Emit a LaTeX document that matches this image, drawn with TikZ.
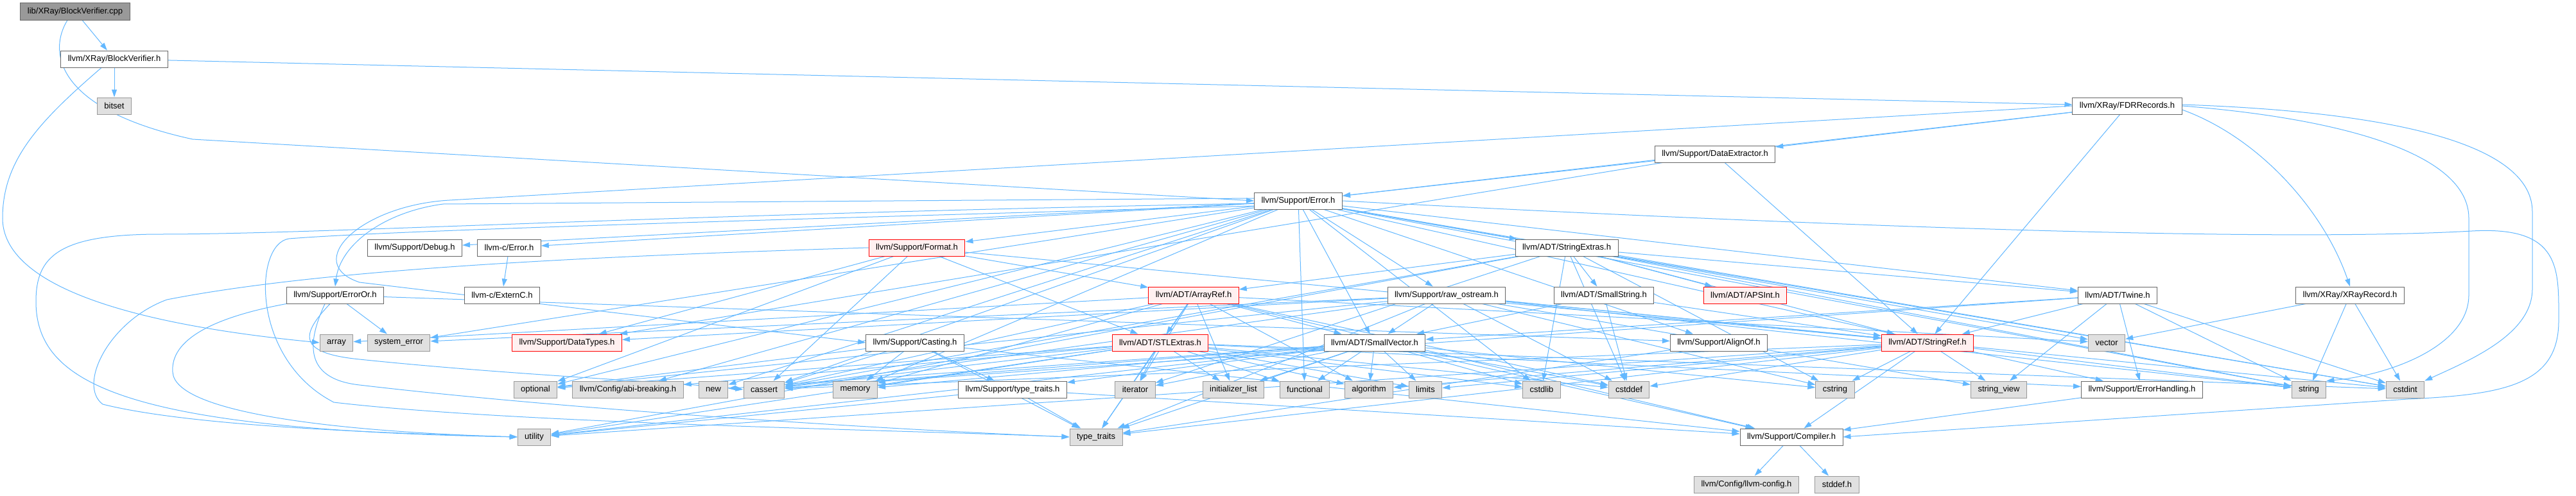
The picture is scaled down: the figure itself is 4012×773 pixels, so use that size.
\documentclass[tikz,border=0pt]{standalone}
\usepackage{fontspec}
\setmainfont{Liberation Sans}
\usetikzlibrary{arrows.meta}
\pgfdeclarelayer{bg}
\pgfsetlayers{bg,main}
\definecolor{edgeblue}{HTML}{63B8FF}
\definecolor{bwhite}{HTML}{666666}
\definecolor{bgray}{HTML}{999999}
\definecolor{fgray}{HTML}{E0E0E0}
\definecolor{fred}{HTML}{FFF0F0}
\tikzset{
  box/.style={rectangle, draw, line width=0.5bp, minimum height=13bp, inner xsep=5.5bp, inner ysep=0pt,
    font=\fontsize{6.5bp}{7.8bp}\selectfont, text=black},
  nw/.style={box, draw=bwhite, fill=white},
  ng/.style={box, draw=bgray, fill=fgray},
  nr/.style={box, draw=red, fill=fred},
  nm/.style={box, draw=bwhite, fill=bgray},
  ed/.style={draw=edgeblue, line width=0.5bp, -{Triangle[length=6bp,width=4bp]}}
}
\begin{document}
\begin{tikzpicture}[x=0.5bp,y=-0.5bp]
\useasboundingbox (0,0) rectangle (4012,773);
% row 1-5
\node[nm] (cpp) at (117,18) {lib/XRay/BlockVerifier.cpp};
\node[nw] (bvh) at (178,92) {llvm/XRay/BlockVerifier.h};
\node[ng] (bitset) at (178,165) {bitset};
\node[nw] (fdr) at (3313,165) {llvm/XRay/FDRRecords.h};
\node[nw] (dext) at (2671,240) {llvm/Support/DataExtractor.h};
\node[nw] (err) at (2022,313) {llvm/Support/Error.h};
% row 6
\node[nw] (debug) at (646,386) {llvm/Support/Debug.h};
\node[nw] (cerr) at (793,386) {llvm-c/Error.h};
\node[nr] (format) at (1428,386) {llvm/Support/Format.h};
\node[nw] (sext) at (2440,386) {llvm/ADT/StringExtras.h};
% row 7
\node[nw] (erroror) at (522,460) {llvm/Support/ErrorOr.h};
\node[nw] (externc) at (782,460) {llvm-c/ExternC.h};
\node[nr] (aref) at (1859,460) {llvm/ADT/ArrayRef.h};
\node[nw] (rawos) at (2253,460) {llvm/Support/raw\_ostream.h};
\node[nw] (sstring) at (2498,460) {llvm/ADT/SmallString.h};
\node[nr] (apsint) at (2718,460) {llvm/ADT/APSInt.h};
\node[nw] (twine) at (3298,460) {llvm/ADT/Twine.h};
\node[nw] (xrec) at (3660,460) {llvm/XRay/XRayRecord.h};
% row 8
\node[ng] (array) at (524,534) {array};
\node[ng] (syserr) at (621,534) {system\_error};
\node[nr] (dtypes) at (883,534) {llvm/Support/DataTypes.h};
\node[nw] (cast) at (1425,534) {llvm/Support/Casting.h};
\node[nr] (stlx) at (1807,534) {llvm/ADT/STLExtras.h};
\node[nw] (svec) at (2141,534) {llvm/ADT/SmallVector.h};
\node[nw] (align) at (2677,534) {llvm/Support/AlignOf.h};
\node[nr] (sref) at (3002,534) {llvm/ADT/StringRef.h};
\node[ng] (vector) at (3281,534) {vector};
% row 9
\node[ng] (optional) at (834,607) {optional};
\node[ng] (abi) at (978,607) {llvm/Config/abi-breaking.h};
\node[ng] (newh) at (1111,607) {new};
\node[ng] (cassert) at (1190,607) {cassert};
\node[ng] (memory) at (1332,607) {memory};
\node[nw] (sttraits) at (1577,607) {llvm/Support/type\_traits.h};
\node[ng] (iterator) at (1768,607) {iterator};
\node[ng] (initlist) at (1921,607) {initializer\_list};
\node[ng] (functional) at (2032,607) {functional};
\node[ng] (algorithm) at (2132,607) {algorithm};
\node[ng] (limits) at (2220,607) {limits};
\node[ng] (cstdlib) at (2401,607) {cstdlib};
\node[ng] (cstddef) at (2537,607) {cstddef};
\node[ng] (cstring) at (2858,607) {cstring};
\node[ng] (strview) at (3113,607) {string\_view};
\node[nw] (ehand) at (3336,607) {llvm/Support/ErrorHandling.h};
\node[ng] (string) at (3596,607) {string};
\node[ng] (cstdint) at (3746,607) {cstdint};
% row 10-11
\node[ng] (utility) at (832,681) {utility};
\node[ng] (ttraits) at (1707,681) {type\_traits};
\node[nw] (compiler) at (2790,681) {llvm/Support/Compiler.h};
\node[ng] (llvmcfg) at (2720,755) {llvm/Config/llvm-config.h};
\node[ng] (stddef) at (2861,755) {stddef.h};

\begin{pgfonlayer}{bg}
\fill[white] (0,0) rectangle (4012,773);
% curved connectors
\draw[ed] ([xshift=-6bp]cpp.south) .. controls (75,80) and (85,170) .. (300,217) -- (err.west);
\draw[ed] ([xshift=-10bp]bvh.south) .. controls (60,190) and (4,250) .. (4,340) .. controls (4,430) and (150,500) .. (array.west);
\draw[ed] (err.east) .. controls (2700,345) and (3500,380) .. (3850,360) .. controls (3990,352) and (3985,420) .. (3985,500) .. controls (3985,600) and (3900,615) .. (3750,622) -- (compiler.east);
\draw[ed] ([yshift=1bp]fdr.east) .. controls (3750,175) and (3944,230) .. (3944,330) -- (3944,450) .. controls (3944,520) and (3850,560) .. (cstdint.north east);
\draw[ed] (fdr.east) .. controls (3650,185) and (3845,240) .. (3845,340) -- (3845,460) .. controls (3845,540) and (3720,585) .. (string.north east);
\draw[ed] ([yshift=-3bp]fdr.east) .. controls (3520,215) and (3620,330) .. (xrec.north);
\draw[ed] ([yshift=-2bp]err.west) .. controls (1000,335) and (500,365) .. (250,365) .. controls (90,365) and (56,400) .. (56,470) .. controls (56,600) and (200,670) .. (utility.west);
\draw[ed] ([yshift=-4bp]err.west) .. controls (1100,345) and (600,360) .. (450,372) .. controls (395,380) and (390,560) .. (520,627) .. controls (800,660) and (1400,670) .. (ttraits.west);
\draw[ed] (format.west) .. controls (900,400) and (500,420) .. (260,467) .. controls (170,500) and (120,600) .. (160,630) .. controls (300,665) and (600,675) .. (utility.west);
\draw[ed] (fdr.west) -- (700,312) .. controls (560,320) and (470,410) .. (560,440) -- (cast.west);
\draw[ed] ([yshift=2bp]err.west) -- (690,318) .. controls (600,330) and (530,380) .. (erroror.north);
\draw[ed] (erroror.south west) .. controls (330,495) and (265,530) .. (269,580) .. controls (272,640) and (500,672) .. (utility.west);
\draw[ed] ([xshift=-4bp]erroror.south) .. controls (470,520) and (460,550) .. (560,560) .. controls (800,585) and (1050,595) .. (cassert.west);
\draw[ed] ([xshift=-8bp]erroror.south) .. controls (480,530) and (470,590) .. (560,600) .. controls (900,640) and (1400,670) .. (ttraits.west);
% straight connectors
\foreach \a/\b in {cpp/bvh, bvh/bitset, bvh/fdr,
 fdr/dext, fdr/err, fdr/sref,
 dext/err, dext/sref, dext/dtypes,
 err/cerr, err/twine, err/abi, err/align, err/debug, err/ehand, err/format, err/rawos, err/svec, err/sext, err/cassert, err/cstdint, err/cstdlib, err/functional, err/memory, err/newh, err/optional, err/string, err/syserr, err/vector,
 cerr/externc,
 erroror/align, erroror/syserr,
 format/aref, format/stlx, format/sref, format/dtypes, format/cassert, format/optional,
 aref/svec, aref/stlx, aref/compiler, aref/algorithm, aref/array, aref/cassert, aref/cstddef, aref/initlist, aref/iterator, aref/memory, aref/ttraits, aref/vector,
 stlx/abi, stlx/ehand, stlx/algorithm, stlx/cassert, stlx/cstddef, stlx/cstdint, stlx/cstdlib, stlx/functional, stlx/initlist, stlx/iterator, stlx/limits, stlx/memory, stlx/optional, stlx/ttraits, stlx/utility,
 svec/compiler, svec/sttraits, svec/algorithm, svec/cassert, svec/cstddef, svec/cstdlib, svec/cstring, svec/functional, svec/initlist, svec/iterator, svec/limits, svec/memory, svec/newh, svec/ttraits, svec/utility,
 sref/compiler, sref/algorithm, sref/cassert, sref/cstddef, sref/cstring, sref/limits, sref/string, sref/strview, sref/ttraits, sref/utility,
 twine/svec, twine/sref, twine/ehand, twine/cassert, twine/cstdint, twine/string, twine/strview,
 rawos/svec, rawos/sref, rawos/dtypes, rawos/cassert, rawos/cstddef, rawos/cstdint, rawos/cstring, rawos/optional, rawos/string, rawos/strview, rawos/syserr, rawos/ttraits,
 sext/apsint, sext/aref, sext/sstring, sext/sref, sext/twine, sext/cassert, sext/cstddef, sext/cstdint, sext/cstdlib, sext/cstring, sext/iterator, sext/string, sext/utility,
 sstring/svec, sstring/sref, sstring/cstddef,
 align/ttraits, compiler/llvmcfg, compiler/stddef, ehand/compiler,
 cast/compiler, cast/sttraits, cast/cassert, cast/memory, cast/optional, cast/ttraits,
 sttraits/compiler, sttraits/ttraits, sttraits/utility,
 xrec/cstdint, xrec/vector, xrec/string}
 \draw[ed] (\a) -- (\b);
\end{pgfonlayer}
\end{tikzpicture}
\end{document}
